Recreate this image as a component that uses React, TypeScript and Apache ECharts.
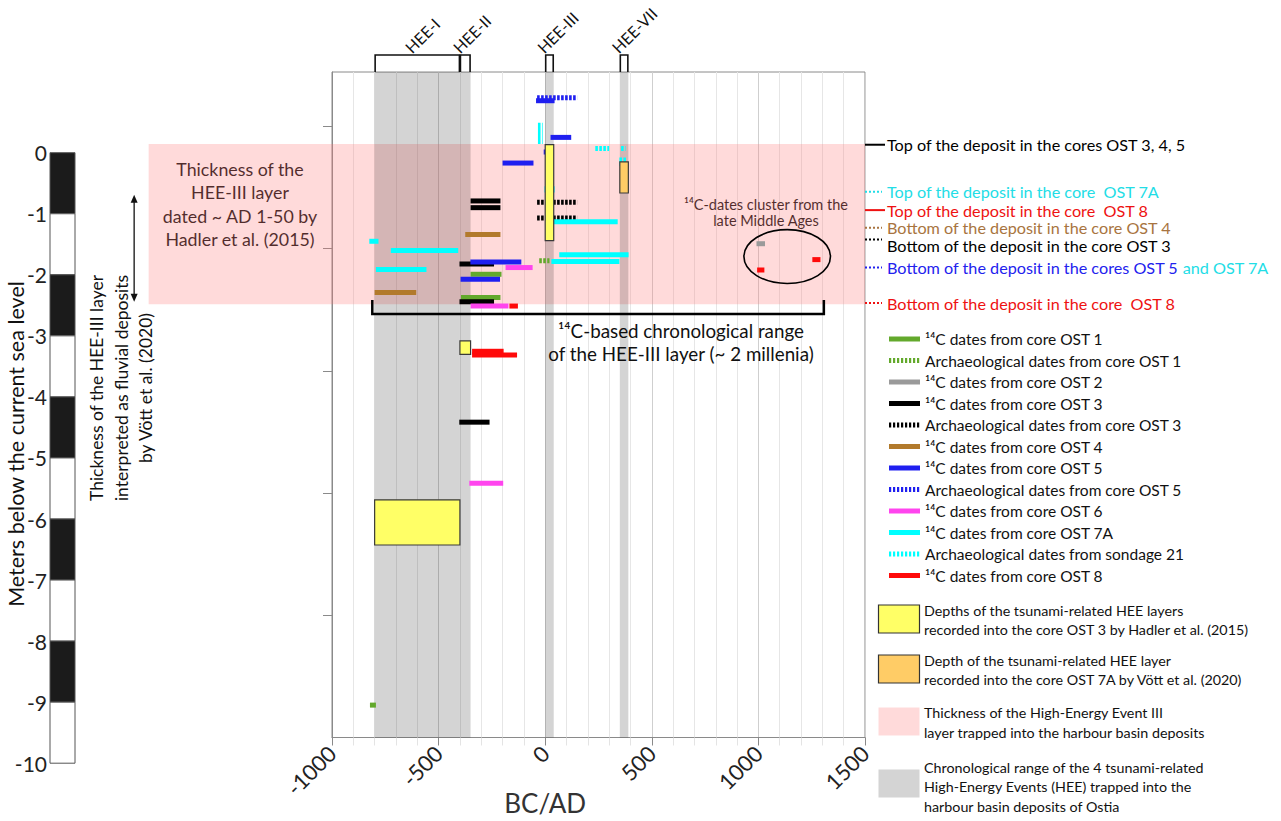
import React, { useEffect, useRef } from 'react';
import * as echarts from 'echarts';

const FONT = 'Lato, "Open Sans", "Noto Sans", sans-serif';

// ---------- axes ----------
const yearMin = -1000;
const yearMax = 1500;
const yearStep = 500;
const depthMin = -9.57;
const depthMax = 1.32;
const yTickDepths = [-7.57, -5.57, -3.57, -1.57, 0.43];
const scaleMin = -10;
const scaleMax = 0;
const scaleBarSegments = [[0, -1], [-1, -2], [-2, -3], [-3, -4], [-4, -5], [-5, -6], [-6, -7], [-7, -8], [-8, -9], [-9, -10]];

// ---------- dated samples: [startYear, endYear, depth] or [start, end, depthTop, depthBottom] ----------
const ost1C = [[-350, -205, -1.99], [-395, -210, -2.37], [-822, -794, -9.04]];
const ost1Arch = [[-28, 20, -1.77]];
const ost2C = [[991, 1031, -1.49]];
const ost3C = [[-350, -210, -0.79], [-350, -210, -0.9], [-402, -240, -1.82], [-402, -240, -2.44], [-403, -261, -4.41]];
const ost3Arch = [[-38, 150, -0.81], [-38, 150, -1.07]];
const ost4C = [[-375, -210, -1.34], [-800, -605, -2.29]];
const ost5C = [[-43, 44, 0.85], [25, 122, 0.25], [-200, -55, -0.17], [-351, -112, -1.79], [-397, -212, -2.07]];
const ost5Arch = [[-38, 150, 0.9], [-7, 35, 0.01]];
const ost6C = [[-186, -59, -1.88], [-350, -172, -2.51], [-356, -197, -5.41]];
const ost7AC = [[16, 340, -1.13], [-825, -782, -1.45], [-724, -408, -1.6], [66, 391, -1.67], [29, 348, -1.78], [-794, -557, -1.91]];
const sondage21Arch = [[-34, -12, 0.49, 0.14], [235, 300, 0.07], [356, 377, 0.07], [348, 380, -0.08, -0.22], [-3, 44, -0.55, -0.65]];
const ost8C = [[-168, -128, -2.51], [-343, -195, -3.25], [-343, -132, -3.31], [994, 1028, -1.92], [1253, 1291, -1.75]];

// ---------- HEE layers ----------
const hadlerLayers = [[0, 40, 0.13, -1.44], [-400, -350, -3.08, -3.3], [-800, -400, -5.68, -6.42]];
const vottLayers = [[350, 390, -0.15, -0.66]];
const heeBands = [[-800, -400], [-400, -350], [0, 40], [350, 390]];
const heeLabels = ['HEE-I', 'HEE-II', 'HEE-III', 'HEE-VII'];
const heeIIILayer = [[-1860, 1500, 0.14, -2.48]];
const chronoRange = [[-811, 1307, -2.64, -2.41]];
const medievalCluster = [[1135, -1.7, 203, 0.44]];
const vottFluvial = [[-1928, -0.69, -2.44]];

// ---------- right-hand depth markers ----------
const markerDepths = [0.13, -0.64, -0.94, -1.23, -1.42, -1.88, -2.46];
const markerLabels = [
  'Top of the deposit in the cores OST 3, 4, 5',
  'Top of the deposit in the core  OST 7A',
  'Top of the deposit in the core  OST 8',
  'Bottom of the deposit in the core OST 4',
  'Bottom of the deposit in the core OST 3',
  'Bottom of the deposit in the cores OST 5',
  'Bottom of the deposit in the core  OST 8',
];
const markerSuffix = ['', '', '', '', '', ' and OST 7A', ''];

// ---------- styles ----------
const GREEN = '#63a92c';
const GRAY = '#9a9a9a';
const BLACK = '#000000';
const BROWN = '#b27a2c';
const BLUE = '#1f1ff0';
const MAGENTA = '#ff45ee';
const CYAN = '#00ffff';
const RED = '#ff0a0a';
const PINK = 'rgba(255,120,120,0.27)';
const BAND = 'rgba(0,0,0,0.17)';
const HEE_LABEL_SHIFT = -45; // label anchor offset (years) left of each bracket centre

const categories = [
  { name: '¹⁴C dates from core OST 1', data: ost1C, color: GREEN, dashed: false },
  { name: 'Archaeological dates from core OST 1', data: ost1Arch, color: GREEN, dashed: true },
  { name: '¹⁴C dates from core OST 2', data: ost2C, color: GRAY, dashed: false },
  { name: '¹⁴C dates from core OST 3', data: ost3C, color: BLACK, dashed: false },
  { name: 'Archaeological dates from core OST 3', data: ost3Arch, color: BLACK, dashed: true },
  { name: '¹⁴C dates from core OST 4', data: ost4C, color: BROWN, dashed: false },
  { name: '¹⁴C dates from core OST 5', data: ost5C, color: BLUE, dashed: false },
  { name: 'Archaeological dates from core OST 5', data: ost5Arch, color: BLUE, dashed: true },
  { name: '¹⁴C dates from core OST 6', data: ost6C, color: MAGENTA, dashed: false },
  { name: '¹⁴C dates from core OST 7A', data: ost7AC, color: CYAN, dashed: false },
  { name: 'Archaeological dates from sondage 21', data: sondage21Arch, color: CYAN, dashed: true },
  { name: '¹⁴C dates from core OST 8', data: ost8C, color: RED, dashed: false },
];

const markerStyles = [
  { color: '#000000', dash: null, dy: 0 },
  { color: '#22dde6', dash: [2, 2], dy: 0 },
  { color: '#ee1111', dash: null, dy: 0 },
  { color: '#a87440', dash: [2, 2], dy: 0 },
  { color: '#000000', dash: [2, 2], dy: 6 },
  { color: '#2222ee', dash: [2, 2], dy: 0 },
  { color: '#ee1111', dash: [2, 2], dy: 0 },
];

const BAR_H = 5;

function toFour(d: number[]) {
  return d.length === 3 ? [d[0], d[1], d[2], d[2]] : d;
}

function segmentRender(color: string, dashed: boolean) {
  return (params: any, api: any) => {
    const p1 = api.coord([api.value(0), api.value(2)]);
    const p2 = api.coord([api.value(1), api.value(3)]);
    const h = Math.max(BAR_H, Math.abs(p2[1] - p1[1]));
    const cy = (p1[1] + p2[1]) / 2;
    if (dashed) {
      return {
        type: 'line',
        shape: { x1: p1[0], y1: cy, x2: p2[0], y2: cy },
        style: { stroke: color, lineWidth: h, lineDash: [2.6, 1.4], lineCap: 'butt' },
      };
    }
    return {
      type: 'rect',
      shape: { x: p1[0], y: cy - h / 2, width: p2[0] - p1[0], height: h },
      style: { fill: color },
    };
  };
}

function boxRender(fill: string) {
  return (params: any, api: any) => {
    const p1 = api.coord([api.value(0), api.value(2)]);
    const p2 = api.coord([api.value(1), api.value(3)]);
    return {
      type: 'rect',
      shape: { x: p1[0], y: p1[1], width: p2[0] - p1[0], height: p2[1] - p1[1] },
      style: { fill, stroke: '#3a3a3a', lineWidth: 1.2 },
    };
  };
}

const heeLabelAnchors = heeBands.map((b) => (b[0] + b[1]) / 2 + HEE_LABEL_SHIFT);

function buildOption() {
  const series: any[] = [];

  series.push({
    type: 'custom', name: 'HEE-III layer', clip: false, z: 1,
    encode: { x: [0, 1], y: [2, 3] },
    data: heeIIILayer,
    renderItem: (params: any, api: any) => {
      const p1 = api.coord([api.value(0), api.value(2)]);
      const p2 = api.coord([api.value(1), api.value(3)]);
      return {
        type: 'rect',
        shape: { x: p1[0], y: p1[1], width: p2[0] - p1[0], height: p2[1] - p1[1] },
        style: { fill: PINK },
      };
    },
  });

  series.push({
    type: 'custom', name: 'HEE', clip: false, z: 2,
    encode: { x: [0, 1] },
    data: heeBands.map((b, i) => [b[0], b[1], i]),
    renderItem: (params: any, api: any) => {
      const cs = params.coordSys;
      const x1 = api.coord([api.value(0), 0])[0];
      const x2 = api.coord([api.value(1), 0])[0];
      const top = cs.y;
      const bTop = top - 17;
      return {
        type: 'group',
        children: [
          { type: 'rect', shape: { x: x1, y: top, width: x2 - x1, height: cs.height }, style: { fill: BAND } },
          {
            type: 'polyline',
            shape: { points: [[x1 + 0.5, top], [x1 + 0.5, bTop], [x2 - 0.5, bTop], [x2 - 0.5, top]] },
            style: { stroke: '#111', lineWidth: 1.6, fill: null },
          },
        ],
      };
    },
  });

  categories.forEach((c) => {
    series.push({
      type: 'custom', name: c.name, z: 3, clip: false,
      encode: { x: [0, 1], y: [2, 3] },
      data: c.data.map(toFour),
      renderItem: segmentRender(c.color, c.dashed),
    });
  });

  series.push({
    type: 'custom', name: 'Hadler et al. (2015)', z: 4, encode: { x: [0, 1], y: [2, 3] },
    data: hadlerLayers, renderItem: boxRender('#ffff66'),
  });
  series.push({
    type: 'custom', name: 'Vött et al. (2020)', z: 4, encode: { x: [0, 1], y: [2, 3] },
    data: vottLayers, renderItem: boxRender('#ffcc66'),
  });

  series.push({
    type: 'custom', name: 'chrono', z: 5, clip: false, encode: { x: [0, 1], y: [2, 3] },
    data: chronoRange,
    renderItem: (params: any, api: any) => {
      const a = api.coord([api.value(0), api.value(3)]);
      const b = api.coord([api.value(0), api.value(2)]);
      const c = api.coord([api.value(1), api.value(2)]);
      const d = api.coord([api.value(1), api.value(3)]);
      return { type: 'polyline', shape: { points: [a, b, c, d] }, style: { stroke: '#000', lineWidth: 2.5, fill: null } };
    },
  });

  series.push({
    type: 'custom', name: 'cluster', z: 5, clip: false, encode: { x: 0, y: 1 },
    data: medievalCluster,
    renderItem: (params: any, api: any) => {
      const c = api.coord([api.value(0), api.value(1)]);
      const s = api.size([api.value(2), api.value(3)]);
      return { type: 'ellipse', shape: { cx: c[0], cy: c[1], rx: s[0], ry: s[1] }, style: { stroke: '#000', lineWidth: 1.6, fill: null } };
    },
  });

  series.push({
    type: 'custom', name: 'fluvial', z: 5, clip: false, encode: { x: 0, y: [1, 2] },
    data: vottFluvial,
    renderItem: (params: any, api: any) => {
      const p1 = api.coord([api.value(0), api.value(1)]);
      const p2 = api.coord([api.value(0), api.value(2)]);
      const x = p1[0];
      return {
        type: 'group',
        children: [
          { type: 'line', shape: { x1: x, y1: p1[1] + 6, x2: x, y2: p2[1] - 6 }, style: { stroke: '#222', lineWidth: 1.4 } },
          { type: 'polygon', shape: { points: [[x, p1[1]], [x - 3.5, p1[1] + 8], [x + 3.5, p1[1] + 8]] }, style: { fill: '#111' } },
          { type: 'polygon', shape: { points: [[x, p2[1]], [x - 3.5, p2[1] - 8], [x + 3.5, p2[1] - 8]] }, style: { fill: '#111' } },
        ],
      };
    },
  });

  series.push({
    type: 'custom', name: 'markers', z: 5, clip: false, encode: { x: 0, y: 1 },
    data: markerDepths.map((d, i) => [yearMax, d, i]),
    renderItem: (params: any, api: any) => {
      const p = api.coord([api.value(0), api.value(1)]);
      const i = api.value(2);
      const st = markerStyles[i];
      const fs = 16.2;
      const text = markerSuffix[i] ? '{a|' + markerLabels[i] + '}{b|' + markerSuffix[i] + '}' : markerLabels[i];
      return {
        type: 'group',
        children: [
          {
            type: 'line',
            shape: { x1: p[0], y1: p[1], x2: p[0] + (st.dash ? 17 : 20), y2: p[1] },
            style: { stroke: st.color, lineWidth: 2, lineDash: st.dash || undefined },
          },
          {
            type: 'text',
            x: p[0] + 22,
            y: p[1] + st.dy,
            style: {
              text, fill: st.color, fontSize: fs, lineHeight: 15, fontFamily: FONT, align: 'left', verticalAlign: 'middle',
              rich: {
                a: { fill: st.color, fontSize: fs, lineHeight: 15, fontFamily: FONT },
                b: { fill: '#22dde6', fontSize: fs, lineHeight: 15, fontFamily: FONT },
              },
            },
          },
        ],
      };
    },
  });

  series.push({
    type: 'custom', name: 'scale', xAxisIndex: 1, yAxisIndex: 1, encode: { y: [0, 1] },
    data: scaleBarSegments.map((s, i) => [s[0], s[1], i]),
    renderItem: (params: any, api: any) => {
      const cs = params.coordSys;
      const t = api.coord([0, api.value(0)]);
      const b = api.coord([0, api.value(1)]);
      const i = api.value(2);
      return {
        type: 'rect',
        shape: { x: cs.x, y: t[1], width: cs.width, height: b[1] - t[1] },
        style: { fill: i % 2 === 0 ? '#1b1b1b' : '#ffffff', stroke: '#555', lineWidth: 1 },
      };
    },
  });

  const axisGray = '#8a8a8a';
  return {
    animation: false,
    backgroundColor: '#ffffff',
    textStyle: { fontFamily: FONT },
    grid: [
      { left: 332, top: 72, width: 533, height: 665.5, show: true, borderColor: axisGray, borderWidth: 1, backgroundColor: 'transparent', containLabel: false, outerBoundsMode: 'none' },
      { left: 50, top: 152.7, width: 25, height: 610.5, containLabel: false, outerBoundsMode: 'none' },
    ],
    xAxis: [
      {
        type: 'value', gridIndex: 0, min: yearMin, max: yearMax, interval: yearStep,
        axisLine: { show: true, onZero: false, lineStyle: { color: axisGray } },
        axisTick: { show: true, length: 8, lineStyle: { color: axisGray } },
        minorTick: { show: true, splitNumber: 5, length: 8, lineStyle: { color: '#e4e4e4' } },
        splitLine: { show: true, lineStyle: { color: '#cfcfcf' } },
        minorSplitLine: { show: true, lineStyle: { color: '#e6e6e6' } },
        axisLabel: { rotate: 45, fontSize: 22, color: '#222', margin: 12, fontFamily: FONT, formatter: (v: number) => String(v) },
      },
      { type: 'value', gridIndex: 1, min: 0, max: 1, show: false },
      {
        type: 'value', gridIndex: 0, position: 'top', min: yearMin, max: yearMax,
        axisLine: { show: false, onZero: false }, axisTick: { show: false }, splitLine: { show: false },
        axisLabel: {
          customValues: heeLabelAnchors, rotate: -45, margin: 22, fontSize: 16, color: '#111', fontFamily: FONT,
          formatter: (v: number) => {
            let best = 0;
            heeLabelAnchors.forEach((a, i) => { if (Math.abs(a - v) < Math.abs(heeLabelAnchors[best] - v)) best = i; });
            return heeLabels[best];
          },
        },
      },
    ],
    yAxis: [
      {
        type: 'value', gridIndex: 0, min: depthMin, max: depthMax,
        axisLine: { show: true, onZero: false, lineStyle: { color: axisGray } },
        axisTick: { show: true, length: 9, customValues: yTickDepths, lineStyle: { color: axisGray } },
        axisLabel: { show: false },
        splitLine: { show: false },
      },
      {
        type: 'value', gridIndex: 1, min: scaleMin, max: scaleMax, interval: 1,
        axisLine: { show: false }, axisTick: { show: false }, splitLine: { show: false },
        axisLabel: { fontSize: 21, color: '#222', margin: 3, fontFamily: FONT },
      },
    ],
    series,
  };
}

function buildGraphic(chart: any) {
  const graphic: any[] = [];

  const t = chart.convertToPixel({ gridIndex: 0 }, [0, depthMin]);
  graphic.push({
    type: 'text', x: t[0], y: t[1] + 65.5,
    style: { text: 'BC/AD', fill: '#333', fontSize: 26, fontFamily: FONT, align: 'center', verticalAlign: 'middle' },
  });

  const legendTop = 339;
  const legendStep = 21.5;
  categories.forEach((c, i) => {
    const y = legendTop + i * legendStep;
    graphic.push({
      type: 'line',
      shape: { x1: 889, y1: y, x2: 920, y2: y },
      style: { stroke: c.color, lineWidth: 5, lineDash: c.dashed ? [2.2, 1.8] : undefined },
    });
    graphic.push({
      type: 'text', x: 925, y,
      style: { text: c.name, fill: '#111', fontSize: 15.5, fontFamily: FONT, align: 'left', verticalAlign: 'middle' },
    });
  });

  const boxLegend = [
    { fill: '#ffff66', stroke: '#333', y: 605, dy: 1, lines: ['Depths of the tsunami-related HEE layers', 'recorded into the core OST 3 by Hadler et al. (2015)'] },
    { fill: '#ffcc66', stroke: '#333', y: 655, dy: 1, lines: ['Depth of the tsunami-related HEE layer', 'recorded into the core OST 7A by Vött et al. (2020)'] },
    { fill: PINK, stroke: null, y: 707.5, dy: 1, lines: ['Thickness of the High-Energy Event III', 'layer trapped into the harbour basin deposits'] },
    { fill: '#d4d4d4', stroke: null, y: 769.5, dy: 3.3, lines: ['Chronological range of the 4 tsunami-related', 'High-Energy Events (HEE) trapped into the', 'harbour basin deposits of Ostia'] },
  ];
  boxLegend.forEach((b) => {
    graphic.push({
      type: 'rect',
      shape: { x: 878.5, y: b.y, width: 41, height: 28 },
      style: { fill: b.fill, stroke: b.stroke || undefined, lineWidth: b.stroke ? 1.2 : 0 },
    });
    graphic.push({
      type: 'text', x: 924, y: b.y + 14 + b.dy,
      style: { text: b.lines.join('\n'), fill: '#111', fontSize: 14.3, lineHeight: 19.8, fontFamily: FONT, align: 'left', verticalAlign: 'middle' },
    });
  });

  graphic.push({
    type: 'text', x: 240, y: 204,
    style: { text: 'Thickness of the\nHEE-III layer\ndated ~ AD 1-50 by\nHadler et al. (2015)', fill: '#111', fontSize: 17.8, lineHeight: 23.2, fontFamily: FONT, align: 'center', verticalAlign: 'middle' },
  });
  graphic.push({
    type: 'text', x: 681, y: 341.7,
    style: { text: '¹⁴C-based chronological range\nof the HEE-III layer (~ 2 millenia)', fill: '#111', fontSize: 18.8, lineHeight: 23.3, fontFamily: FONT, align: 'center', verticalAlign: 'middle' },
  });
  graphic.push({
    type: 'text', x: 766, y: 212,
    style: { text: '¹⁴C-dates cluster from the\nlate Middle Ages', fill: '#111', fontSize: 14.5, lineHeight: 16, fontFamily: FONT, align: 'center', verticalAlign: 'middle' },
  });
  graphic.push({
    type: 'text', x: 121, y: 388, rotation: Math.PI / 2,
    style: { text: 'Thickness of the HEE-III layer\ninterpreted as fluvial deposits\nby Vött et al. (2020)', fill: '#111', fontSize: 17.5, lineHeight: 24.5, fontFamily: FONT, align: 'center', verticalAlign: 'middle' },
  });
  graphic.push({
    type: 'text', x: 16, y: 444, rotation: Math.PI / 2,
    style: { text: 'Meters below the current sea level', fill: '#111', fontSize: 21.5, fontFamily: FONT, align: 'center', verticalAlign: 'middle' },
  });
  return graphic;
}

export default function App() {
  const ref = useRef<HTMLDivElement>(null);
  useEffect(() => {
    const chart = echarts.init(ref.current!, null, { renderer: 'svg' });
    chart.setOption(buildOption() as any);
    chart.setOption({ graphic: { elements: buildGraphic(chart) } } as any);
    return () => chart.dispose();
  }, []);
  return <div ref={ref} style={{ position: 'absolute', left: 0, top: 0, width: 1281, height: 821 }} />;
}
